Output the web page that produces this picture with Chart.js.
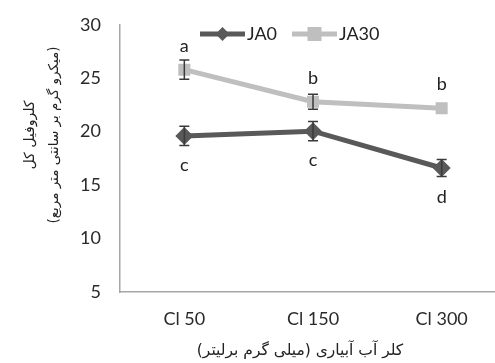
<!DOCTYPE html>
<html>
<head>
<meta charset="utf-8">
<script src="https://cdn.jsdelivr.net/npm/chart.js@4/dist/chart.umd.min.js"></script>
<style>
  html, body { margin: 0; padding: 0; background: #fff; overflow: hidden; }
  #wrap { position: relative; width: 515px; height: 368px; margin-top: -5px; }
</style>
</head>
<body>
<div id="wrap"><canvas id="c"></canvas></div>
<script>
// Chlorine levels of irrigation water
const categories = ['Cl 50', 'Cl 150', 'Cl 300'];
// Total chlorophyll per treatment
const ja0Values = [19.6, 20.05, 16.6];
const ja30Values = [25.8, 22.8, 22.2];
// Standard errors
const ja0Errors = [0.9, 0.9, 0.8];
const ja30Errors = [0.9, 0.7, 0.0];
// Mean comparison letters
const ja0Letters = ['c', 'c', 'd'];
const ja30Letters = ['a', 'b', 'b'];
const yTicks = [5, 10, 15, 20, 25, 30];
const xTitle = 'کلر آب آبیاری (میلی گرم برلیتر)';
const yTitle = ['کلروفیل کل', '(میکرو گرم بر سانتی متر مربع)'];

const latinFont = 'Lato';
const persianFont = '"DejaVu Sans"';
// the canvas sits 5px above the page top
const SHIFT = 5;

const errorBars = {
  id: 'errorBars',
  afterDatasetsDraw(chart) {
    const { ctx, scales: { x, y } } = chart;
    const sets = [
      { vals: ja0Values, errs: ja0Errors, letters: ja0Letters, shift: 29 },
      { vals: ja30Values, errs: ja30Errors, letters: ja30Letters, shift: -24 }
    ];
    ctx.save();
    sets.forEach(s => {
      s.vals.forEach((v, i) => {
        const px = x.getPixelForValue(i);
        const e = s.errs[i];
        if (e > 0) {
          const top = y.getPixelForValue(v + e);
          const bot = y.getPixelForValue(v - e);
          ctx.strokeStyle = '#3a3a3a';
          ctx.lineWidth = 1.5;
          ctx.beginPath();
          ctx.moveTo(px, top); ctx.lineTo(px, bot);
          ctx.moveTo(px - 5, top); ctx.lineTo(px + 5, top);
          ctx.moveTo(px - 5, bot); ctx.lineTo(px + 5, bot);
          ctx.stroke();
        }
        ctx.fillStyle = '#222';
        ctx.font = '18px ' + latinFont;
        ctx.textAlign = 'center';
        ctx.textBaseline = 'middle';
        ctx.fillText(s.letters[i], px, y.getPixelForValue(v) + s.shift);
      });
    });
    ctx.restore();
  }
};

const lineLegend = {
  id: 'lineLegend',
  afterDraw(chart) {
    const { ctx } = chart;
    const items = [
      { label: 'JA0', color: '#595959', style: 'diamond', x0: 200 },
      { label: 'JA30', color: '#bfbfbf', style: 'square', x0: 292 }
    ];
    const yy = 34 + SHIFT;
    ctx.save();
    items.forEach(it => {
      ctx.strokeStyle = it.color;
      ctx.lineWidth = 5;
      ctx.beginPath();
      ctx.moveTo(it.x0, yy); ctx.lineTo(it.x0 + 45, yy);
      ctx.stroke();
      const cx = it.x0 + 22.5;
      ctx.fillStyle = it.color;
      ctx.beginPath();
      if (it.style === 'diamond') {
        ctx.moveTo(cx, yy - 7); ctx.lineTo(cx + 7, yy); ctx.lineTo(cx, yy + 7); ctx.lineTo(cx - 7, yy);
      } else {
        ctx.rect(cx - 7, yy - 7, 14, 14);
      }
      ctx.closePath();
      ctx.fill();
      ctx.fillStyle = '#222';
      ctx.font = '18px ' + latinFont;
      ctx.textAlign = 'left';
      ctx.textBaseline = 'middle';
      ctx.fillText(it.label, it.x0 + 47, yy);
    });
    ctx.restore();
  }
};

// Persian axis titles, drawn right-to-left
const axisTitles = {
  id: 'axisTitles',
  afterDraw(chart) {
    const { ctx } = chart;
    ctx.save();
    ctx.direction = 'rtl';
    ctx.fillStyle = '#222';
    ctx.textAlign = 'center';
    ctx.textBaseline = 'middle';
    ctx.font = '15.5px ' + persianFont;
    ctx.fillText(xTitle, 300, 351 + SHIFT);
    ctx.translate(0, 135 + SHIFT);
    ctx.rotate(-Math.PI / 2);
    ctx.font = '14px ' + persianFont;
    ctx.fillText(yTitle[0], 0, 30);
    ctx.font = '13.5px ' + persianFont;
    ctx.fillText(yTitle[1], 0, 54);
    ctx.restore();
  }
};

new Chart(document.getElementById('c'), {
  type: 'line',
  data: {
    labels: categories,
    datasets: [
      {
        label: 'JA0', data: ja0Values,
        borderColor: '#595959', backgroundColor: '#595959',
        borderWidth: 5, pointStyle: 'rectRot', pointRadius: 9,
        pointBorderWidth: 0, pointHoverRadius: 9
      },
      {
        label: 'JA30', data: ja30Values,
        borderColor: '#bfbfbf', backgroundColor: '#bfbfbf',
        borderWidth: 5, pointStyle: 'rect', pointRadius: 8.5,
        pointBorderWidth: 0, pointHoverRadius: 8.5
      }
    ]
  },
  options: {
    responsive: true,
    maintainAspectRatio: false,
    animation: false,
    layout: { padding: { top: 9, right: 0, left: 0, bottom: 0 } },
    plugins: { legend: { display: false }, tooltip: { enabled: false } },
    scales: {
      x: {
        type: 'category',
        offset: true,
        afterFit: s => { s.height = 71; },
        grid: { display: false, drawTicks: false },
        border: { color: '#a6a6a6', width: 1.5 },
        ticks: { color: '#2a2a2a', font: { family: latinFont, size: 18 }, padding: 16 }
      },
      y: {
        min: 5, max: 30,
        afterBuildTicks: s => { s.ticks = yTicks.map(v => ({ value: v })); },
        afterFit: s => { s.width = 120; },
        grid: { display: false, drawTicks: false },
        border: { color: '#a6a6a6', width: 1.5 },
        ticks: { color: '#2a2a2a', font: { family: latinFont, size: 18 }, padding: 19 }
      }
    }
  },
  plugins: [errorBars, lineLegend, axisTitles]
});
</script>
</body>
</html>
